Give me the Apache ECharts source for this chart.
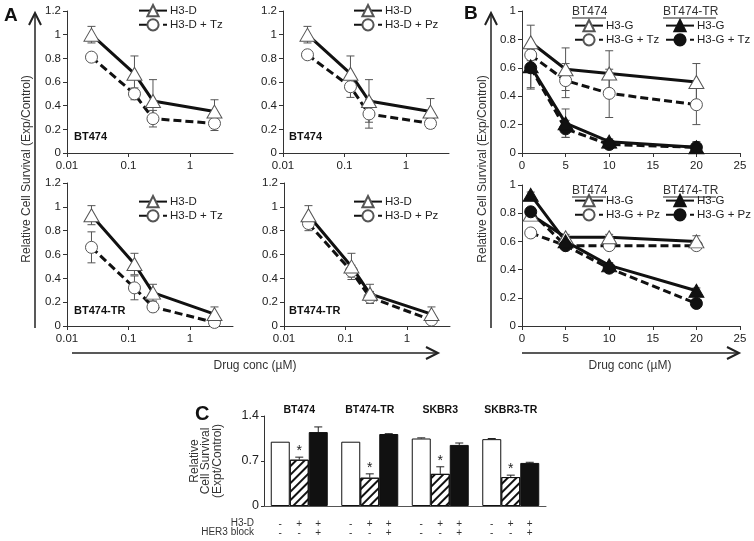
<!DOCTYPE html>
<html>
<head>
<meta charset="utf-8">
<script src="https://cdn.jsdelivr.net/npm/echarts@6/dist/echarts.min.js"></script>
<style>
  html, body { margin: 0; padding: 0; background: #fff; }
  #chart { width: 754px; height: 541px; }
</style>
</head>
<body>
<div id="chart"></div>
<script>
// ---- data ----
var doseA = [0.025, 0.125, 0.25, 2.5];
var doseB = [1, 5, 10, 20];
var logTicks = [0.01, 0.1, 1];

// panel A, BT474
var a1H3D = [1.0, 0.67, 0.44, 0.35];
var a1H3DErr = [0.07, 0.15, 0.18, 0.10];
var a1Tz = [0.81, 0.50, 0.29, 0.25];
var a1TzErr = [0.02, 0.05, 0.07, 0.06];
var a2H3D = [1.0, 0.67, 0.44, 0.35];
var a2H3DErr = [0.07, 0.15, 0.18, 0.11];
var a2Pz = [0.83, 0.56, 0.33, 0.25];
var a2PzErr = [0.03, 0.09, 0.12, 0.04];
// panel A, BT474-TR
var a3H3D = [0.93, 0.52, 0.28, 0.10];
var a3H3DErr = [0.08, 0.09, 0.07, 0.06];
var a3Tz = [0.66, 0.32, 0.16, 0.03];
var a3TzErr = [0.13, 0.10, 0.04, 0.02];
var a4H3D = [0.93, 0.50, 0.27, 0.10];
var a4H3DErr = [0.08, 0.11, 0.08, 0.06];
var a4Pz = [0.86, 0.46, 0.24, 0.05];
var a4PzErr = [0.06, 0.05, 0.05, 0.02];

// panel B, trastuzumab
var b1H3G = [0.78, 0.59, 0.56, 0.50];
var b1H3GErr = [0.12, 0.15, 0.16, 0.13];
var b1Tz = [0.69, 0.51, 0.42, 0.34];
var b1TzErr = [0.04, 0.12, 0.17, 0.14];
var b1TrH3G = [0.61, 0.21, 0.08, 0.04];
var b1TrH3GErr = [0.15, 0.10, 0.02, 0.04];
var b1TrTz = [0.60, 0.17, 0.06, 0.04];
var b1TrTzErr = [0.15, 0.06, 0.02, 0.02];
// panel B, pertuzumab
var b2H3G = [0.79, 0.63, 0.63, 0.60];
var b2H3GErr = [0.02, 0.02, 0.02, 0.04];
var b2Pz = [0.66, 0.57, 0.57, 0.57];
var b2PzErr = [0.01, 0.01, 0.01, 0.01];
var b2TrH3G = [0.93, 0.60, 0.43, 0.25];
var b2TrH3GErr = [0.02, 0.02, 0.02, 0.02];
var b2TrPz = [0.81, 0.57, 0.41, 0.16];
var b2TrPzErr = [0.01, 0.01, 0.01, 0.01];

// panel C
var cGroups = ['BT474', 'BT474-TR', 'SKBR3', 'SKBR3-TR'];
var cCtrl = [1.0, 1.0, 1.05, 1.04];
var cCtrlErr = [0, 0, 0.01, 0.01];
var cH3D = [0.72, 0.44, 0.50, 0.45];
var cH3DErr = [0.04, 0.06, 0.11, 0.03];
var cBlock = [1.15, 1.12, 0.95, 0.67];
var cBlockErr = [0.08, 0.005, 0.03, 0.01];
var cStars = [1, 1, 1, 1];
var rowH3D = ['-', '+', '+'];
var rowHER3 = ['-', '-', '+'];

// ---- helpers ----
var FONT = 'Liberation Sans';
var AX = '#333';

function pairs(xs, ys) {
  return xs.map(function (x, i) { return [x, ys[i]]; });
}

function logX(g) {
  return {
    type: 'log', logBase: 10, gridIndex: g, min: 0.01, max: 5,
    axisLine: { lineStyle: { color: AX } },
    axisTick: { length: 4, lineStyle: { color: AX }, customValues: logTicks },
    axisLabel: { customValues: logTicks, margin: 7, fontSize: 11.5, color: '#222', fontFamily: FONT,
      formatter: function (v) { return String(+Number(v).toPrecision(2)); } },
    splitLine: { show: false }
  };
}

function linX(g) {
  return {
    type: 'value', gridIndex: g, min: 0, max: 25, interval: 5,
    axisLine: { lineStyle: { color: AX } },
    axisTick: { length: 4, lineStyle: { color: AX } },
    axisLabel: { margin: 7, fontSize: 11.5, color: '#222', fontFamily: FONT },
    splitLine: { show: false }
  };
}

function valY(g, max) {
  return {
    type: 'value', gridIndex: g, min: 0, max: max, interval: 0.2,
    axisLine: { show: true, lineStyle: { color: AX } },
    axisTick: { show: true, length: 4, lineStyle: { color: AX } },
    axisLabel: { margin: 6, fontSize: 11.5, color: '#222', fontFamily: FONT },
    splitLine: { show: false }
  };
}

function curve(name, g, xs, ys, tri, filled, dashed) {
  return {
    name: name, type: 'line', xAxisIndex: g, yAxisIndex: g, z: 3,
    data: pairs(xs, ys),
    symbol: tri ? 'triangle' : 'circle',
    symbolSize: tri ? [15, 13] : 12,
    showAllSymbol: true,
    emphasis: { disabled: true },
    lineStyle: { color: '#111', width: 3, type: dashed ? [8, 4] : 'solid' },
    itemStyle: { color: filled ? '#111' : '#fff', borderColor: filled ? '#111' : '#555', borderWidth: 1 }
  };
}

function errBars(g, xs, ys, es) {
  return {
    type: 'custom', xAxisIndex: g, yAxisIndex: g, z: 2, silent: true,
    data: xs.map(function (x, i) { return [x, ys[i], es[i]]; }),
    renderItem: function (p, api) {
      var x = api.value(0), y = api.value(1), e = api.value(2);
      var t = api.coord([x, y + e]), b = api.coord([x, y - e]);
      var st = { stroke: '#555', lineWidth: 1 };
      return { type: 'group', children: [
        { type: 'line', shape: { x1: t[0], y1: t[1], x2: b[0], y2: b[1] }, style: st },
        { type: 'line', shape: { x1: t[0] - 4, y1: t[1], x2: t[0] + 4, y2: t[1] }, style: st },
        { type: 'line', shape: { x1: b[0] - 4, y1: b[1], x2: b[0] + 4, y2: b[1] }, style: st }
      ] };
    }
  };
}

function leg(left, top, names) {
  return {
    left: left, top: top, orient: 'vertical', padding: 0, itemGap: 1,
    itemWidth: 28, itemHeight: 14, selectedMode: false,
    data: names,
    formatter: function (n) { return n.split('|')[1]; },
    textStyle: { fontSize: 11.5, color: '#222', fontFamily: FONT, lineHeight: 13, padding: [0, 0, 0, -2] }
  };
}

var BW = 19;
function bar(vals, k, style) {
  return {
    type: 'bar', xAxisIndex: 6, yAxisIndex: 6, data: vals, barWidth: BW, barGap: '0%', z: 3,
    emphasis: { disabled: true },
    itemStyle: style,
    label: { show: true, position: ['50%', '100%'], offset: [0, 13], align: 'center', verticalAlign: 'top',
      formatter: rowH3D[k] + '\n' + rowHER3[k], fontSize: 10, lineHeight: 9.5, color: '#333', fontFamily: FONT }
  };
}

function barErr(vals, errs, k, stars) {
  return {
    type: 'custom', xAxisIndex: 6, yAxisIndex: 6, z: 4, silent: true,
    data: vals.map(function (v, i) { return [i, v, errs[i], stars ? stars[i] : 0]; }),
    renderItem: function (p, api) {
      var i = api.value(0), v = api.value(1), e = api.value(2), s = api.value(3);
      var b = api.coord([i, v]), t = api.coord([i, v + e]);
      var x = b[0] + (k - 1) * BW;
      var st = { stroke: '#222', lineWidth: 1 };
      var kids = [];
      if (e > 0) {
        kids.push({ type: 'line', shape: { x1: x, y1: b[1], x2: x, y2: t[1] }, style: st });
        kids.push({ type: 'line', shape: { x1: x - 4, y1: t[1], x2: x + 4, y2: t[1] }, style: st });
      }
      if (s) {
        kids.push({ type: 'text', x: x, y: t[1] - 6, style: { text: '*', fontSize: 14, fill: '#222',
          fontFamily: FONT, align: 'center', verticalAlign: 'middle' } });
      }
      return { type: 'group', children: kids };
    }
  };
}

function txt(x, y, s, opt) {
  opt = opt || {};
  return {
    type: 'text', x: x, y: y, rotation: opt.rot || 0, silent: true,
    style: { text: s, fontSize: opt.size || 12, fontWeight: opt.bold ? 'bold' : 'normal',
      fill: opt.color || '#333', fontFamily: FONT, align: opt.align || 'left', verticalAlign: 'middle' }
  };
}
function seg(x1, y1, x2, y2, w) {
  return { type: 'line', silent: true, shape: { x1: x1, y1: y1, x2: x2, y2: y2 },
    style: { stroke: '#222', lineWidth: w || 1.5 } };
}
function head(pts) {
  return { type: 'polyline', silent: true, shape: { points: pts },
    style: { stroke: '#222', lineWidth: 2, fill: null } };
}

// ---- chart ----
var chart = echarts.init(document.getElementById('chart'));

var option = {
  animation: false,
  backgroundColor: '#fff',
  textStyle: { fontFamily: FONT },
  grid: [
    { left: 67, top: 11, width: 166, height: 142, outerBoundsMode: 'none' },
    { left: 283, top: 11, width: 166, height: 142, outerBoundsMode: 'none' },
    { left: 67, top: 183, width: 166, height: 143, outerBoundsMode: 'none' },
    { left: 284, top: 183, width: 166, height: 143, outerBoundsMode: 'none' },
    { left: 522, top: 11, width: 218, height: 142, outerBoundsMode: 'none' },
    { left: 522, top: 185, width: 218, height: 141, outerBoundsMode: 'none' },
    { left: 264, top: 416, width: 282, height: 90, outerBoundsMode: 'none' }
  ],
  xAxis: [
    logX(0), logX(1), logX(2), logX(3), linX(4), linX(5),
    { type: 'category', gridIndex: 6, data: cGroups,
      axisLine: { lineStyle: { color: '#555' } }, axisTick: { show: false }, axisLabel: { show: false } },
    { type: 'category', gridIndex: 6, position: 'top', data: cGroups,
      axisLine: { show: false }, axisTick: { show: false },
      axisLabel: { fontWeight: 'bold', fontSize: 10.5, margin: 0, color: '#111', fontFamily: FONT } }
  ],
  yAxis: [
    valY(0, 1.2), valY(1, 1.2), valY(2, 1.2), valY(3, 1.2), valY(4, 1), valY(5, 1),
    { type: 'value', gridIndex: 6, min: 0, max: 1.4, interval: 0.7,
      axisLine: { show: true, lineStyle: { color: AX } },
      axisTick: { show: true, length: 3, lineStyle: { color: AX } },
      axisLabel: { margin: 5, fontSize: 12.5, color: '#222', fontFamily: FONT },
      splitLine: { show: false },
      name: 'Relative\nCell Survival\n(Expt/Control)', nameLocation: 'middle', nameRotate: 90, nameGap: 41,
      nameTextStyle: { fontSize: 12, lineHeight: 11.5, color: '#333', fontFamily: FONT } }
  ],
  legend: [
    leg(138, 4, ['a1|H3-D', 'a1|H3-D + Tz']),
    leg(353, 4, ['a2|H3-D', 'a2|H3-D + Pz']),
    leg(138, 195, ['a3|H3-D', 'a3|H3-D + Tz']),
    leg(353, 195, ['a4|H3-D', 'a4|H3-D + Pz']),
    leg(574, 19, ['b1|H3-G', 'b1|H3-G + Tz']),
    leg(665, 19, ['b1t|H3-G', 'b1t|H3-G + Tz']),
    leg(574, 194, ['b2|H3-G', 'b2|H3-G + Pz']),
    leg(665, 194, ['b2t|H3-G', 'b2t|H3-G + Pz'])
  ],
  series: [
    errBars(0, doseA, a1H3D, a1H3DErr), errBars(0, doseA, a1Tz, a1TzErr),
    curve('a1|H3-D + Tz', 0, doseA, a1Tz, false, false, true),
    curve('a1|H3-D', 0, doseA, a1H3D, true, false, false),

    errBars(1, doseA, a2H3D, a2H3DErr), errBars(1, doseA, a2Pz, a2PzErr),
    curve('a2|H3-D + Pz', 1, doseA, a2Pz, false, false, true),
    curve('a2|H3-D', 1, doseA, a2H3D, true, false, false),

    errBars(2, doseA, a3H3D, a3H3DErr), errBars(2, doseA, a3Tz, a3TzErr),
    curve('a3|H3-D + Tz', 2, doseA, a3Tz, false, false, true),
    curve('a3|H3-D', 2, doseA, a3H3D, true, false, false),

    errBars(3, doseA, a4H3D, a4H3DErr), errBars(3, doseA, a4Pz, a4PzErr),
    curve('a4|H3-D + Pz', 3, doseA, a4Pz, false, false, true),
    curve('a4|H3-D', 3, doseA, a4H3D, true, false, false),

    errBars(4, doseB, b1H3G, b1H3GErr), errBars(4, doseB, b1Tz, b1TzErr),
    errBars(4, doseB, b1TrH3G, b1TrH3GErr), errBars(4, doseB, b1TrTz, b1TrTzErr),
    curve('b1|H3-G + Tz', 4, doseB, b1Tz, false, false, true),
    curve('b1|H3-G', 4, doseB, b1H3G, true, false, false),
    curve('b1t|H3-G + Tz', 4, doseB, b1TrTz, false, true, true),
    curve('b1t|H3-G', 4, doseB, b1TrH3G, true, true, false),

    errBars(5, doseB, b2H3G, b2H3GErr), errBars(5, doseB, b2Pz, b2PzErr),
    errBars(5, doseB, b2TrH3G, b2TrH3GErr), errBars(5, doseB, b2TrPz, b2TrPzErr),
    curve('b2|H3-G + Pz', 5, doseB, b2Pz, false, false, true),
    curve('b2|H3-G', 5, doseB, b2H3G, true, false, false),
    curve('b2t|H3-G + Pz', 5, doseB, b2TrPz, false, true, true),
    curve('b2t|H3-G', 5, doseB, b2TrH3G, true, true, false),

    bar(cCtrl, 0, { color: '#fff', borderColor: '#111', borderWidth: 1 }),
    bar(cH3D, 1, { color: '#fff', borderColor: '#111', borderWidth: 1,
      decal: { symbol: 'rect', symbolSize: 1, dashArrayX: [1, 0], dashArrayY: [2, 4],
        rotation: -Math.PI / 4, color: '#111' } }),
    bar(cBlock, 2, { color: '#111', borderColor: '#111', borderWidth: 1 }),
    barErr(cCtrl, cCtrlErr, 0, null),
    barErr(cH3D, cH3DErr, 1, cStars),
    barErr(cBlock, cBlockErr, 2, null)
  ],
  graphic: [
    // panel letters
    txt(4, 16, 'A', { size: 19, bold: true, color: '#111' }),
    txt(464, 14, 'B', { size: 19, bold: true, color: '#111' }),
    txt(195, 414, 'C', { size: 20, bold: true, color: '#111' }),
    // y titles and arrows
    txt(27, 169, 'Relative Cell Survival (Exp/Control)', { rot: Math.PI / 2, align: 'center' }),
    txt(483, 169, 'Relative Cell Survival (Exp/Control)', { rot: Math.PI / 2, align: 'center' }),
    seg(35, 328, 35, 15), head([[29, 25], [35, 13], [41, 25]]),
    seg(491, 328, 491, 15), head([[485, 25], [491, 13], [497, 25]]),
    seg(72, 353, 437, 353), head([[426, 347], [438, 353], [426, 359]]),
    seg(522, 353, 738, 353), head([[727, 347], [739, 353], [727, 359]]),
    txt(255, 366, 'Drug conc (\u00b5M)', { align: 'center' }),
    txt(630, 366, 'Drug conc (\u00b5M)', { align: 'center' }),
    // cell line tags in A
    txt(74, 137, 'BT474', { size: 11, bold: true, color: '#111' }),
    txt(289, 137, 'BT474', { size: 11, bold: true, color: '#111' }),
    txt(74, 311, 'BT474-TR', { size: 11, bold: true, color: '#111' }),
    txt(289, 311, 'BT474-TR', { size: 11, bold: true, color: '#111' }),
    // legend group titles in B
    txt(572, 12, 'BT474'), seg(572, 18, 606, 18, 1),
    txt(663, 12, 'BT474-TR'), seg(663, 18, 716, 18, 1),
    txt(572, 191, 'BT474'), seg(572, 197, 606, 197, 1),
    txt(663, 191, 'BT474-TR'), seg(663, 197, 716, 197, 1),
    // C row labels
    txt(254, 523, 'H3-D', { size: 10, align: 'right' }),
    txt(254, 532, 'HER3 block', { size: 10, align: 'right' })
  ]
};

chart.setOption(option);
</script>
</body>
</html>
